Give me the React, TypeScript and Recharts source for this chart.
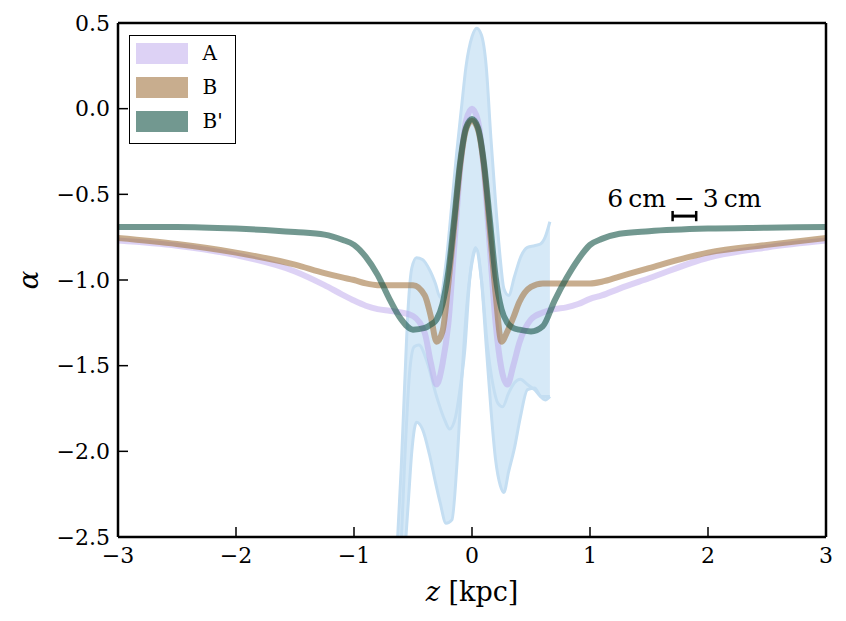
import React from 'react';
import { ComposedChart, Line, Area, XAxis, YAxis, Legend, ReferenceLine } from 'recharts';

// profiles of alpha along z
const zGrid = [
  -3, -2.5, -2, -1.5, -1.25, -1.1, -1, -0.9, -0.8, -0.7, -0.6,
  -0.5, -0.4, -0.35, -0.3, -0.25, -0.2, -0.15, -0.1, -0.05, 0,
  0.05, 0.1, 0.15, 0.2, 0.25, 0.3, 0.35, 0.4, 0.5, 0.6,
  0.7, 0.8, 0.9, 1, 1.1, 1.25, 1.5, 2, 2.5, 3,
];
const alphaA = [
  -0.77, -0.8, -0.855, -0.95, -1.03, -1.085, -1.12, -1.15, -1.17, -1.18, -1.19,
  -1.21, -1.31, -1.48, -1.61, -1.49, -1.25, -0.8, -0.35, -0.07, 0.0,
  -0.07, -0.35, -0.8, -1.25, -1.52, -1.61, -1.5, -1.37, -1.23, -1.19,
  -1.17, -1.16, -1.14, -1.11, -1.09, -1.05, -0.99, -0.87, -0.81, -0.77,
];
const alphaB = [
  -0.755, -0.79, -0.84, -0.91, -0.96, -0.985, -1.0, -1.02, -1.03, -1.03, -1.03,
  -1.03, -1.09, -1.21, -1.36, -1.3, -1.02, -0.68, -0.33, -0.12, -0.07,
  -0.12, -0.33, -0.7, -1.08, -1.36, -1.3, -1.22, -1.13, -1.04, -1.02,
  -1.02, -1.02, -1.02, -1.02, -1.01, -0.98, -0.93, -0.84, -0.795, -0.755,
];
const alphaBp = [
  -0.69, -0.69, -0.7, -0.72, -0.735, -0.765, -0.795, -0.865, -0.97, -1.11, -1.23,
  -1.29, -1.28, -1.26, -1.23, -1.14, -0.95, -0.64, -0.31, -0.11, -0.06,
  -0.11, -0.31, -0.64, -0.98, -1.17, -1.25, -1.28, -1.29, -1.3, -1.27,
  -1.12, -0.99, -0.88, -0.795, -0.76, -0.73, -0.715, -0.7, -0.695, -0.69,
];

// shaded spread around the central region
const bandZ = [
  -0.68, -0.63, -0.6, -0.57, -0.54, -0.51, -0.47, -0.42, -0.36, -0.31,
  -0.27, -0.22, -0.17, -0.13, -0.09, -0.05, 0, 0.04, 0.08, 0.12,
  0.16, 0.2, 0.24, 0.27, 0.31, 0.36, 0.41, 0.47, 0.53, 0.58,
  0.62, 0.66,
];
const bandLow = [
  -3.5, -3.2, -2.9, -2.6, -2.3, -2.0, -1.83, -1.87, -2.02, -2.18,
  -2.3, -2.42, -2.4, -2.1, -1.62, -1.2, -0.9, -0.82, -1.0, -1.38,
  -1.75, -2.05, -2.2, -2.24, -2.12, -1.98, -1.8, -1.64, -1.63, -1.68,
  -1.7, -1.68,
];
const bandHigh = [
  -3.4, -2.5, -2.1, -1.6, -1.15, -0.93, -0.87, -0.88, -0.94, -1.02,
  -1.1, -0.9, -0.55, -0.26, 0.0, 0.25, 0.42, 0.47, 0.43, 0.25,
  -0.17, -0.55, -0.88, -1.05, -1.09, -0.98, -0.87, -0.81, -0.8, -0.79,
  -0.75, -0.66,
];
const midZ = [
  -0.61, -0.57, -0.53, -0.49, -0.45, -0.38, -0.3, -0.23, -0.19, -0.14,
  -0.1, -0.06, -0.02, 0.03, 0.08, 0.13, 0.18, 0.22, 0.26, 0.31,
  0.36, 0.41, 0.47, 0.53, 0.59, 0.66,
];
const midValues = [
  -2.7, -2.05, -1.55, -1.39, -1.38, -1.48, -1.68, -1.82, -1.87, -1.8,
  -1.63, -1.4, -1.0, -0.81, -1.0, -1.38, -1.62, -1.72, -1.74, -1.66,
  -1.6, -1.58, -1.61, -1.64, -1.68, -1.68,
];

const xTicks = [-3, -2, -1, 0, 1, 2, 3];
const yTicks = [-2.5, -2, -1.5, -1, -0.5, 0, 0.5];

const legendNames = ['A', 'B', "B'"];
const legendSwatches = ['#ddd2f5', '#c8ad8e', '#729890'];

// resolution marker: 6cm - 3cm beam difference
const scaleBarZ = [1.7, 1.9];
const scaleBarY = -0.627;

const FONT = '"DejaVu Serif", serif';

const seriesA = zGrid.map((z, i) => ({ z, v: alphaA[i] }));
const seriesB = zGrid.map((z, i) => ({ z, v: alphaB[i] }));
const seriesBp = zGrid.map((z, i) => ({ z, v: alphaBp[i] }));
const bandData = bandZ.map((z, i) => ({ z, range: [bandLow[i], bandHigh[i]] }));
const midData = midZ.map((z, i) => ({ z, v: midValues[i] }));

const fmtY = (v: number) => (v < 0 ? '\u2212' : '') + Math.abs(v).toFixed(1);
const fmtX = (v: number) => (v < 0 ? '\u2212' : '') + Math.abs(v);

const renderLegend = () => (
  <div
    style={{
      width: 107,
      height: 109,
      border: '1.5px solid #000',
      background: '#fff',
      boxSizing: 'border-box',
      fontFamily: FONT,
      fontSize: 20,
      paddingLeft: 5.5,
      paddingTop: 0,
    }}
  >
    {legendNames.map((name, i) => (
      <div key={name} style={{ display: 'flex', alignItems: 'center', height: 34 }}>
        <span style={{ display: 'inline-block', width: 52, height: 21, background: legendSwatches[i] }} />
        <span style={{ marginLeft: 15, lineHeight: 1 }}>{name}</span>
      </div>
    ))}
  </div>
);

export default function App() {
  return (
    <div style={{ width: 838, height: 605 }}>
      <ComposedChart width={838} height={605} margin={{ top: 14, right: 19, bottom: 0, left: 0 }}>
        <XAxis
          dataKey="z"
          type="number"
          domain={[-3, 3]}
          ticks={xTicks}
          interval={0}
          allowDataOverflow
          height={76}
          tickFormatter={fmtX}
          tickSize={-10}
          tickMargin={20}
          axisLine={{ stroke: '#000', strokeWidth: 2.5 }}
          tickLine={{ stroke: '#000', strokeWidth: 1.5 }}
          tick={{ fill: '#000', fontSize: 22, fontFamily: FONT }}
          label={(p: any) => {
            const vb = p.viewBox;
            return (
              <text x={vb.x + vb.width / 2} y={vb.y + 64} textAnchor="middle" fontFamily={FONT} fontSize={27} fill="#000">
                <tspan fontStyle="italic">z</tspan> [kpc]
              </text>
            );
          }}
        />
        <XAxis
          xAxisId="top"
          orientation="top"
          type="number"
          domain={[-3, 3]}
          ticks={xTicks}
          interval={0}
          height={1}
          tick={false}
          tickSize={-10}
          axisLine={{ stroke: '#000', strokeWidth: 2.5 }}
          tickLine={{ stroke: '#000', strokeWidth: 1.5 }}
        />
        <YAxis
          type="number"
          domain={[-2.5, 0.5]}
          ticks={yTicks}
          interval={0}
          allowDataOverflow
          width={110}
          tickFormatter={fmtY}
          tickSize={-10}
          tickMargin={18}
          axisLine={{ stroke: '#000', strokeWidth: 2.5 }}
          tickLine={{ stroke: '#000', strokeWidth: 1.5 }}
          tick={{ fill: '#000', fontSize: 22, fontFamily: FONT }}
          label={(p: any) => {
            const vb = p.viewBox;
            const cx = vb.x + 20;
            const cy = vb.y + vb.height / 2;
            return (
              <text
                x={cx}
                y={cy}
                transform={`rotate(-90, ${cx}, ${cy})`}
                textAnchor="middle"
                dominantBaseline="central"
                fontFamily={FONT}
                fontStyle="italic"
                fontSize={28}
                fill="#000"
              >
                α
              </text>
            );
          }}
        />
        <YAxis
          yAxisId="right"
          orientation="right"
          type="number"
          domain={[-2.5, 0.5]}
          ticks={yTicks}
          interval={0}
          width={1}
          tick={false}
          tickSize={-10}
          axisLine={{ stroke: '#000', strokeWidth: 2.5 }}
          tickLine={{ stroke: '#000', strokeWidth: 1.5 }}
        />
        <Legend
          layout="vertical"
          align="center"
          verticalAlign="middle"
          content={renderLegend}
          wrapperStyle={{ top: 27, left: 121, width: 107, height: 109 }}
        />
        <Area
          data={bandData}
          dataKey="range"
          type="monotone"
          fill="#d6e9f7"
          fillOpacity={1}
          stroke="#c4def2"
          strokeWidth={3}
          legendType="none"
          isAnimationActive={false}
          activeDot={false}
          dot={false}
        />
        <Line
          data={midData}
          dataKey="v"
          type="monotone"
          stroke="#c4def2"
          strokeWidth={3}
          dot={false}
          activeDot={false}
          legendType="none"
          isAnimationActive={false}
        />
        <Line
          data={seriesA}
          dataKey="v"
          name="A"
          type="monotone"
          stroke="rgb(187,165,235)"
          strokeOpacity={0.5}
          strokeWidth={6}
          dot={false}
          activeDot={false}
          isAnimationActive={false}
        />
        <Line
          data={seriesB}
          dataKey="v"
          name="B"
          type="monotone"
          stroke="rgb(163,118,67)"
          strokeOpacity={0.6}
          strokeWidth={6}
          dot={false}
          activeDot={false}
          isAnimationActive={false}
        />
        <Line
          data={seriesBp}
          dataKey="v"
          name="B'"
          type="monotone"
          stroke="rgb(20,83,70)"
          strokeOpacity={0.6}
          strokeWidth={6}
          dot={false}
          activeDot={false}
          isAnimationActive={false}
        />
        <ReferenceLine
          segment={[{ x: scaleBarZ[0], y: scaleBarY }, { x: scaleBarZ[1], y: scaleBarY }]}
          stroke="#000"
          strokeWidth={3}
          label={(p: any) => {
            const vb = p.viewBox;
            return (
              <text x={vb.x + vb.width / 2} y={vb.y - 9} textAnchor="middle" fontFamily={FONT} fontSize={25} fill="#000">
                6{'\u2009'}cm {'\u2212'} 3{'\u2009'}cm
              </text>
            );
          }}
        />
        <ReferenceLine
          segment={[{ x: scaleBarZ[0], y: scaleBarY + 0.03 }, { x: scaleBarZ[0], y: scaleBarY - 0.03 }]}
          stroke="#000"
          strokeWidth={2.5}
        />
        <ReferenceLine
          segment={[{ x: scaleBarZ[1], y: scaleBarY + 0.03 }, { x: scaleBarZ[1], y: scaleBarY - 0.03 }]}
          stroke="#000"
          strokeWidth={2.5}
        />
      </ComposedChart>
    </div>
  );
}
